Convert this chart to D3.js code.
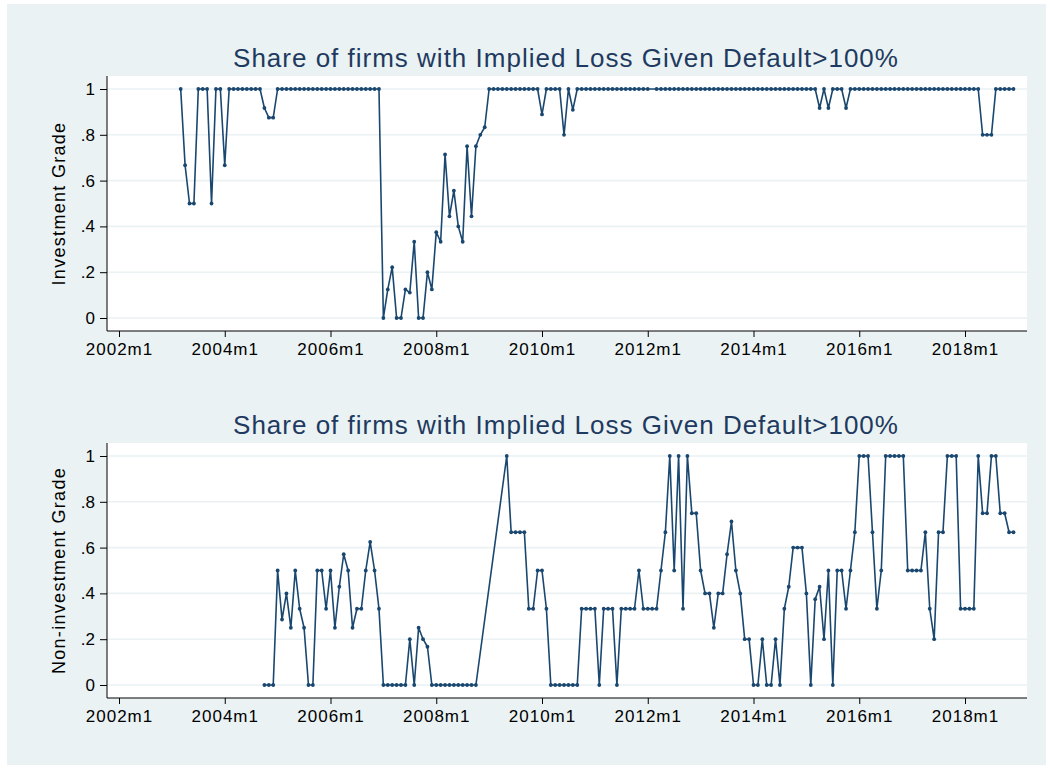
<!DOCTYPE html>
<html>
<head>
<meta charset="utf-8">
<script src="https://cdn.jsdelivr.net/npm/d3@7"></script>
<style>
  body { margin: 0; background: #fff; }
  svg { display: block; font-family: "Liberation Sans", Arial, sans-serif; }
</style>
</head>
<body>
<div id="chart"></div>
<script>
// chart data (monthly shares, null = month not observed)
var titleText = "Share of firms with Implied Loss Given Default>100%";
var xTickLabels = ["2002m1", "2004m1", "2006m1", "2008m1", "2010m1", "2012m1", "2014m1", "2016m1", "2018m1"];
var yTickValues = [0, 0.2, 0.4, 0.6, 0.8, 1];
var yTickLabels = ["0", ".2", ".4", ".6", ".8", "1"];

// Investment Grade, starting 2003m1, one row per year
var igStart = "2003m1";
var investmentGrade = [
  null, null, 1, 0.667, 0.5, 0.5, 1, 1, 1, 0.5, 1, 1,                 // 2003
  0.667, 1, 1, 1, 1, 1, 1, 1, 1, 0.917, 0.875, 0.875,                 // 2004
  1, 1, 1, 1, 1, 1, 1, 1, 1, 1, 1, 1,                                 // 2005
  1, 1, 1, 1, 1, 1, 1, 1, 1, 1, 1, 1,                                 // 2006
  0, 0.125, 0.222, 0, 0, 0.125, 0.111, 0.333, 0, 0, 0.2, 0.125,       // 2007
  0.375, 0.333, 0.714, 0.444, 0.556, 0.4, 0.333, 0.75, 0.444, 0.75, 0.8, 0.833, // 2008
  1, 1, 1, 1, 1, 1, 1, 1, 1, 1, 1, 1,                                 // 2009
  0.889, 1, 1, 1, 1, 0.8, 1, 0.909, 1, 1, 1, 1,                       // 2010
  1, 1, 1, 1, 1, 1, 1, 1, 1, 1, 1, 1,                                 // 2011
  1, null, 1, 1, 1, 1, 1, 1, 1, 1, 1, 1,                              // 2012
  1, 1, 1, 1, 1, 1, 1, 1, 1, 1, 1, 1,                                 // 2013
  1, 1, 1, 1, 1, 1, 1, 1, 1, 1, 1, 1,                                 // 2014
  1, 1, 1, 0.917, 1, 0.917, 1, 1, 1, 0.917, 1, 1,                     // 2015
  1, 1, 1, 1, 1, 1, 1, 1, 1, 1, 1, 1,                                 // 2016
  1, 1, 1, 1, 1, 1, 1, 1, 1, 1, 1, 1,                                 // 2017
  1, 1, 1, 1, 0.8, 0.8, 0.8, 1, 1, 1, 1, 1                            // 2018
];

// Non-investment Grade, starting 2004m1
var nigStart = "2004m1";
var nonInvestmentGrade = [
  null, null, null, null, null, null, null, null, null, 0, 0, 0,      // 2004
  0.5, 0.286, 0.4, 0.25, 0.5, 0.333, 0.25, 0, 0, 0.5, 0.5, 0.333,     // 2005
  0.5, 0.25, 0.429, 0.571, 0.5, 0.25, 0.333, 0.333, 0.5, 0.625, 0.5, 0.333, // 2006
  0, 0, 0, 0, 0, 0, 0.2, 0, 0.25, 0.2, 0.167, 0,                      // 2007
  0, 0, 0, 0, 0, 0, 0, 0, 0, 0, null, null,                           // 2008
  null, null, null, null, 1, 0.667, 0.667, 0.667, 0.667, 0.333, 0.333, 0.5, // 2009
  0.5, 0.333, 0, 0, 0, 0, 0, 0, 0, 0.333, 0.333, 0.333,               // 2010
  0.333, 0, 0.333, 0.333, 0.333, 0, 0.333, 0.333, 0.333, 0.333, 0.5, 0.333, // 2011
  0.333, 0.333, 0.333, 0.5, 0.667, 1, 0.5, 1, 0.333, 1, 0.75, 0.75,   // 2012
  0.5, 0.4, 0.4, 0.25, 0.4, 0.4, 0.571, 0.714, 0.5, 0.4, 0.2, 0.2,    // 2013
  0, 0, 0.2, 0, 0, 0.2, 0, 0.333, 0.429, 0.6, 0.6, 0.6,               // 2014
  0.4, 0, 0.375, 0.429, 0.2, 0.5, 0, 0.5, 0.5, 0.333, 0.5, 0.667,     // 2015
  1, 1, 1, 0.667, 0.333, 0.5, 1, 1, 1, 1, 1, 0.5,                     // 2016
  0.5, 0.5, 0.5, 0.667, 0.333, 0.2, 0.667, 0.667, 1, 1, 1, 0.333,     // 2017
  0.333, 0.333, 0.333, 1, 0.75, 0.75, 1, 1, 0.75, 0.75, 0.667, 0.667  // 2018
];

// "2003m1" -> months since 2002m1
function monthIndex(s) {
  var p = s.split("m");
  return (+p[0] - 2002) * 12 + (+p[1] - 1);
}
function toPoints(values, start) {
  var m0 = monthIndex(start);
  return values.map(function(v, i) { return { m: m0 + i, v: v }; })
    .filter(function(d) { return d.v !== null; });
}

var W = 1050, H = 769;
var svg = d3.select("#chart").append("svg").attr("width", W).attr("height", H);

// outer graph region
svg.append("rect").attr("x", 7).attr("y", 4).attr("width", 1039).attr("height", 761)
  .attr("fill", "#eaf2f3");

var navy = "#1a476f";

// months -> pixels, 2002m1 and 2018m1 tick positions
var x = d3.scaleLinear().domain([0, 192]).range([119, 965]);
var plotLeft = 107, plotRight = 1027;

function panel(points, top, yTitle) {
  var plotTop = top, plotBottom = top + 255;
  var y = d3.scaleLinear().domain([0, 1]).range([plotBottom - 13, plotTop + 13]);

  var g = svg.append("g");

  g.append("rect").attr("x", plotLeft).attr("y", plotTop)
    .attr("width", plotRight - plotLeft).attr("height", plotBottom - plotTop)
    .attr("fill", "#ffffff");

  // gridlines
  g.selectAll(".grid").data(yTickValues).enter().append("line")
    .attr("x1", plotLeft).attr("x2", plotRight)
    .attr("y1", function(d) { return y(d); }).attr("y2", function(d) { return y(d); })
    .attr("stroke", "#eaf2f3").attr("stroke-width", 1.6);

  // title
  g.append("text").attr("x", 566).attr("y", plotTop - 9)
    .attr("text-anchor", "middle").attr("font-size", 26).attr("letter-spacing", 1)
    .attr("fill", "#1f3a60").text(titleText);

  // y axis
  var yAxis = d3.axisLeft(y).tickValues(yTickValues)
    .tickFormat(function(d, i) { return yTickLabels[i]; })
    .tickSize(7).tickPadding(5);
  var ya = g.append("g").attr("transform", "translate(" + plotLeft + ",0)").call(yAxis);
  ya.select(".domain").attr("d", "M0," + plotTop + "V" + plotBottom);
  ya.selectAll("text").attr("font-size", 17).attr("fill", "#000").attr("font-family", "Liberation Sans, Arial, sans-serif");
  ya.selectAll("line, path").attr("stroke", "#000");

  // x axis
  var xAxis = d3.axisBottom(x).tickValues(d3.range(0, 193, 24))
    .tickFormat(function(d, i) { return xTickLabels[i]; })
    .tickSize(6).tickPadding(6);
  var xa = g.append("g").attr("transform", "translate(0," + plotBottom + ")").call(xAxis);
  xa.select(".domain").attr("d", "M" + plotLeft + ",0H" + plotRight);
  xa.selectAll("text").attr("font-size", 17).attr("fill", "#000").attr("letter-spacing", 1)
    .attr("font-family", "Liberation Sans, Arial, sans-serif");
  xa.selectAll("line, path").attr("stroke", "#000");

  // y axis title
  g.append("text")
    .attr("transform", "translate(65," + y(0.5) + ") rotate(-90)")
    .attr("text-anchor", "middle").attr("font-size", 18).attr("letter-spacing", 1.3)
    .attr("fill", "#000").text(yTitle);

  // connected line
  var line = d3.line().x(function(d) { return x(d.m); }).y(function(d) { return y(d.v); });
  g.append("path").datum(points).attr("d", line)
    .attr("fill", "none").attr("stroke", navy).attr("stroke-width", 1.6)
    .attr("stroke-linejoin", "round");

  g.selectAll(".pt").data(points).enter().append("circle")
    .attr("cx", function(d) { return x(d.m); })
    .attr("cy", function(d) { return y(d.v); })
    .attr("r", 1.9).attr("fill", navy);
}

panel(toPoints(investmentGrade, igStart), 76, "Investment Grade");
panel(toPoints(nonInvestmentGrade, nigStart), 443, "Non-investment Grade");
</script>
</body>
</html>
